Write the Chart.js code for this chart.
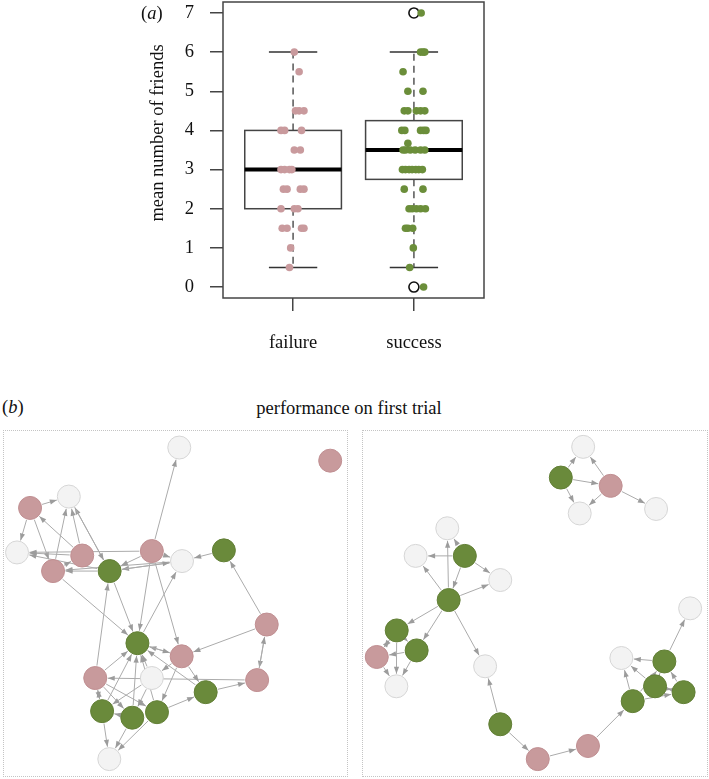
<!DOCTYPE html>
<html>
<head>
<meta charset="utf-8">
<script src="https://cdn.jsdelivr.net/npm/chart.js@4.4.1/dist/chart.umd.min.js"></script>
<style>
  body { margin: 0; width: 709px; height: 779px; background: #fff; position: relative; overflow: hidden;
         font-family: "Liberation Serif", serif; color: #111; }
  .holder { position: absolute; }
  .panel { position: absolute; border: 1px dotted #c4c4c4; box-sizing: border-box; }
  .lbl { position: absolute; font-size: 18.5px; line-height: 20px; white-space: nowrap; }
</style>
</head>
<body>
<div class="holder" style="left:0; top:0; width:709px; height:370px;"><canvas id="box-chart"></canvas></div>
<div class="panel" style="left:3px; top:430px; width:345px; height:347px;"><canvas id="net-left"></canvas></div>
<div class="panel" style="left:362px; top:430px; width:346px; height:347px;"><canvas id="net-right"></canvas></div>

<div class="lbl" style="left:141px; top:3px;">(<i>a</i>)</div>
<div class="lbl" style="left:157px; top:133px; transform: translate(-50%, -50%) rotate(-90deg);">mean number of friends</div>
<div class="lbl" style="left:2px; top:397px;">(<i>b</i>)</div>
<div class="lbl" style="left:0; width:698px; text-align:center; top:398px;">performance on first trial</div>

<script>
// ---- (a) boxplot data ----
const groups = ['failure', 'success'];
const yTicks = [0, 1, 2, 3, 4, 5, 6, 7];
const whiskerLow = [0.5, 0.5];
const q1 = [2, 2.75];
const median = [3, 3.5];
const q3 = [4, 4.25];
const whiskerHigh = [6, 6];
const outliers = [[], [0, 7]];

// individual values with their horizontal jitter
const failureValues = [6, 5.5, 4.5, 4.5, 4.5, 4, 4, 4, 3.5, 3.5, 3, 3, 3, 3,
    2.5, 2.5, 2.5, 2.5, 2, 2, 2, 1.5, 1.5, 1.5, 1.5, 1, 0.5];
const failureJitter = [0.01, 0.05, 0.02, 0.05, 0.09, -0.1, -0.07, 0.07, 0.01, 0.06, -0.1, -0.07, -0.03, -0.01,
    -0.08, -0.05, 0.06, 0.09, -0.1, 0.01, 0.04, -0.09, -0.05, 0.07, 0.09, -0.02, -0.03];
const successValues = [7, 6, 6, 6, 5.5, 5, 5, 4.5, 4.5, 4.5, 4.5, 4.5, 4, 4, 4, 4, 4, 3.67,
    3.5, 3.5, 3.5, 3.5, 3.5, 3.5, 3, 3, 3, 3, 3, 3, 3, 2.5, 2.5, 2, 2, 2, 2, 2, 1.5, 1.5, 1.5, 1, 0.5, 0];
const successJitter = [0.06, 0.055, 0.075, 0.09, -0.09, -0.05, 0.075, -0.08, -0.05, 0.02, 0.055, 0.09,
    -0.1, -0.075, 0.055, 0.08, 0.1, -0.05, -0.09, -0.07, -0.03, 0.01, 0.055, 0.09,
    -0.095, -0.07, -0.04, -0.015, 0.015, 0.04, 0.07, -0.08, 0.075, -0.04, -0.015, 0.02, 0.055, 0.095,
    -0.07, -0.05, -0.01, -0.005, -0.035, 0.08];

// ---- (b) network data: layout coordinates (0-100) and first-trial result ----
// state: s = success, f = failure, n = no data
const leftX = [51.1, 95.1, 18.9, 7.6, 3.8, 22.8, 14.3, 30.8, 43.1, 51.9, 64.1,
    76.6, 38.9, 51.8, 26.6, 43.1, 73.8, 58.8, 28.6, 37.4, 44.6, 30.7];
const leftY = [95.2, 91.4, 81.0, 77.7, 64.8, 63.9, 59.4, 59.4, 65.2, 62.3, 65.4,
    43.9, 38.5, 34.7, 28.4, 28.4, 27.8, 24.3, 18.8, 16.9, 18.5, 4.9];
const leftState = ['n', 'f', 'n', 'f', 'n', 'f', 'f', 's', 'f', 'n', 's',
    'f', 's', 'f', 'f', 'n', 'f', 's', 's', 's', 's', 'n'];
// directed links, node numbers counted from 1
const leftLinks = [[9, 1], [4, 3], [4, 5], [6, 4], [4, 7], [7, 3], [6, 3], [8, 3], [3, 8], [6, 5], [8, 5], [9, 5],
    [7, 6], [8, 7], [10, 7], [9, 8], [10, 8], [8, 10], [9, 10], [11, 10], [9, 13], [9, 14], [7, 13], [8, 13],
    [13, 10], [12, 11], [12, 14], [12, 17], [17, 12], [14, 13], [13, 14], [15, 8], [15, 13], [16, 13],
    [18, 13], [19, 13], [20, 13], [21, 13], [18, 17], [17, 15], [21, 18], [14, 18], [19, 15], [15, 19],
    [15, 20], [15, 21], [19, 22], [20, 22], [21, 22], [16, 20], [16, 19], [20, 19], [14, 21], [14, 16]];

const rightX = [64.0, 57.5, 72.0, 63.0, 85.2, 24.5, 15.3, 29.6, 39.9, 24.9, 95.1, 9.8,
    15.6, 4.0, 35.5, 75.1, 87.6, 84.9, 93.2, 78.4, 9.7, 39.9, 65.4, 50.8];
const rightY = [95.4, 86.5, 84.1, 76.1, 77.4, 71.8, 63.8, 63.8, 56.8, 51.0, 48.6, 42.2,
    36.4, 34.5, 31.8, 34.2, 33.2, 26.0, 24.3, 21.7, 26.0, 15.0, 8.7, 4.9];
const rightState = ['n', 's', 'f', 'n', 'n', 'n', 'n', 's', 'n', 's', 'n', 's',
    's', 'f', 'n', 'n', 's', 's', 's', 's', 'n', 's', 'f', 'f'];
const rightLinks = [[2, 1], [3, 1], [2, 3], [2, 4], [3, 4], [3, 5],
    [8, 6], [10, 6], [8, 7], [10, 7], [8, 9], [10, 9], [8, 10],
    [10, 12], [10, 13], [10, 15], [12, 14], [14, 12], [13, 14], [12, 21], [13, 21], [14, 21], [12, 13],
    [22, 15], [22, 24], [24, 23], [23, 20],
    [17, 16], [17, 11], [20, 16], [18, 16], [18, 19], [19, 18], [20, 19], [18, 17], [19, 17], [20, 17]];

const pink = '#c99a9d';
const green = '#6b8e3a';
const nodeFill = { n: '#f3f3f3', f: '#c89a9c', s: '#6a8a3b' };
const nodeLine = { n: '#d6d6d6', f: '#c08f92', s: '#627f36' };

Chart.defaults.font.family = '"Liberation Serif", serif';
Chart.defaults.color = '#111';

// Draw frame, boxes, whiskers and medians under the points
const boxPlugin = {
    id: 'boxes',
    beforeDatasetsDraw(chart) {
        const { ctx, chartArea, scales: { x, y } } = chart;
        ctx.save();
        ctx.strokeStyle = '#444';
        ctx.lineWidth = 1.5;
        ctx.strokeRect(chartArea.left, chartArea.top, chartArea.right - chartArea.left, chartArea.bottom - chartArea.top);

        groups.forEach((g, i) => {
            const c = i + 1;
            const mid = x.getPixelForValue(c);
            const bl = x.getPixelForValue(c - 0.4), br = x.getPixelForValue(c + 0.4);
            const cl = x.getPixelForValue(c - 0.2), cr = x.getPixelForValue(c + 0.2);

            // dashed whiskers
            ctx.strokeStyle = '#555';
            ctx.lineWidth = 1.5;
            ctx.setLineDash([7, 5]);
            ctx.beginPath();
            ctx.moveTo(mid, y.getPixelForValue(q3[i]));
            ctx.lineTo(mid, y.getPixelForValue(whiskerHigh[i]));
            ctx.moveTo(mid, y.getPixelForValue(q1[i]));
            ctx.lineTo(mid, y.getPixelForValue(whiskerLow[i]));
            ctx.stroke();
            ctx.setLineDash([]);

            // staples
            ctx.strokeStyle = '#333';
            ctx.beginPath();
            [whiskerHigh[i], whiskerLow[i]].forEach(v => {
                ctx.moveTo(cl, y.getPixelForValue(v));
                ctx.lineTo(cr, y.getPixelForValue(v));
            });
            ctx.stroke();

            // box
            const top = y.getPixelForValue(q3[i]), bottom = y.getPixelForValue(q1[i]);
            ctx.strokeStyle = '#444';
            ctx.strokeRect(bl, top, br - bl, bottom - top);

            // median
            ctx.strokeStyle = '#000';
            ctx.lineWidth = 4;
            ctx.beginPath();
            ctx.moveTo(bl, y.getPixelForValue(median[i]));
            ctx.lineTo(br, y.getPixelForValue(median[i]));
            ctx.stroke();
        });
        ctx.restore();
    }
};

function initBoxChart() {
    const ctx = document.getElementById('box-chart').getContext('2d');
    new Chart(ctx, {
        type: 'scatter',
        data: {
            datasets: [
                {
                    label: 'failure',
                    data: failureValues.map((v, i) => ({ x: 1 + failureJitter[i], y: v })),
                    backgroundColor: pink,
                    borderWidth: 0,
                    pointRadius: 3.8
                },
                {
                    label: 'success',
                    data: successValues.map((v, i) => ({ x: 2 + successJitter[i], y: v })),
                    backgroundColor: green,
                    borderWidth: 0,
                    pointRadius: 3.8
                },
                {
                    label: 'outliers',
                    data: outliers.flatMap((list, i) => list.map(v => ({ x: i + 1, y: v }))),
                    backgroundColor: 'rgba(255,255,255,0)',
                    borderColor: '#111',
                    borderWidth: 1.6,
                    pointRadius: 5
                }
            ]
        },
        options: {
            responsive: true,
            maintainAspectRatio: false,
            animation: false,
            events: [],
            layout: { autoPadding: false, padding: { left: 143, top: 2, right: 225, bottom: 12 } },
            plugins: { legend: { display: false }, tooltip: { enabled: false } },
            scales: {
                x: {
                    type: 'linear',
                    min: 0.42,
                    max: 2.58,
                    afterBuildTicks: s => { s.ticks = groups.map((g, i) => ({ value: i + 1 })); },
                    afterFit: s => { s.height = 60; s.paddingLeft = 0; s.paddingRight = 0; },
                    border: { display: false },
                    grid: { drawOnChartArea: false, drawTicks: true, tickLength: 13, color: '#444', lineWidth: 1.5 },
                    ticks: {
                        padding: 21,
                        maxRotation: 0,
                        font: { size: 18.5 },
                        color: '#111',
                        callback: v => groups[v - 1]
                    }
                },
                y: {
                    min: -0.28,
                    max: 7.28,
                    afterBuildTicks: s => { s.ticks = yTicks.map(v => ({ value: v })); },
                    afterFit: s => { s.width = 80; s.paddingTop = 0; s.paddingBottom = 0; },
                    border: { display: false },
                    grid: { drawOnChartArea: false, drawTicks: true, tickLength: 13, color: '#444', lineWidth: 1.5 },
                    ticks: { padding: 16, font: { size: 18.5 }, color: '#111' }
                }
            }
        },
        plugins: [boxPlugin]
    });
}

// Draw directed links between nodes, stopping at the node rim with a small arrow head
const linkPlugin = {
    id: 'links',
    beforeDatasetsDraw(chart, args, opts) {
        const { ctx, scales: { x, y } } = chart;
        const r = 12.5;
        ctx.save();
        ctx.strokeStyle = '#ababab';
        ctx.fillStyle = '#9c9c9c';
        ctx.lineWidth = 1;
        opts.links.forEach(([a, b]) => {
            const x1 = x.getPixelForValue(opts.xs[a - 1]), y1 = y.getPixelForValue(opts.ys[a - 1]);
            const x2 = x.getPixelForValue(opts.xs[b - 1]), y2 = y.getPixelForValue(opts.ys[b - 1]);
            const len = Math.hypot(x2 - x1, y2 - y1);
            const ux = (x2 - x1) / len, uy = (y2 - y1) / len;
            const sx = x1 + ux * r, sy = y1 + uy * r;
            const ex = x2 - ux * r, ey = y2 - uy * r;
            ctx.beginPath();
            ctx.moveTo(sx, sy);
            ctx.lineTo(ex, ey);
            ctx.stroke();
            // arrow head
            const hl = 7, hw = 2.6;
            ctx.beginPath();
            ctx.moveTo(ex, ey);
            ctx.lineTo(ex - ux * hl - uy * hw, ey - uy * hl + ux * hw);
            ctx.lineTo(ex - ux * hl + uy * hw, ey - uy * hl - ux * hw);
            ctx.closePath();
            ctx.fill();
        });
        ctx.restore();
    }
};

function initNetwork(id, xs, ys, states, links) {
    const ctx = document.getElementById(id).getContext('2d');
    const datasets = ['n', 'f', 's'].map(st => ({
        label: st,
        data: xs.map((v, i) => ({ x: v, y: ys[i], st: states[i] }))
            .filter(p => p.st === st)
            .map(p => ({ x: p.x, y: p.y })),
        backgroundColor: nodeFill[st],
        borderColor: nodeLine[st],
        borderWidth: 1,
        pointRadius: 11.5,
        clip: false
    }));
    new Chart(ctx, {
        type: 'scatter',
        data: { datasets },
        options: {
            responsive: true,
            maintainAspectRatio: false,
            animation: false,
            events: [],
            layout: { autoPadding: false, padding: 0 },
            plugins: {
                legend: { display: false },
                tooltip: { enabled: false },
                links: { links, xs, ys }
            },
            scales: {
                x: { display: false, min: 0, max: 100 },
                y: { display: false, min: 0, max: 100 }
            }
        },
        plugins: [linkPlugin]
    });
}

initBoxChart();
initNetwork('net-left', leftX, leftY, leftState, leftLinks);
initNetwork('net-right', rightX, rightY, rightState, rightLinks);
</script>
</body>
</html>
